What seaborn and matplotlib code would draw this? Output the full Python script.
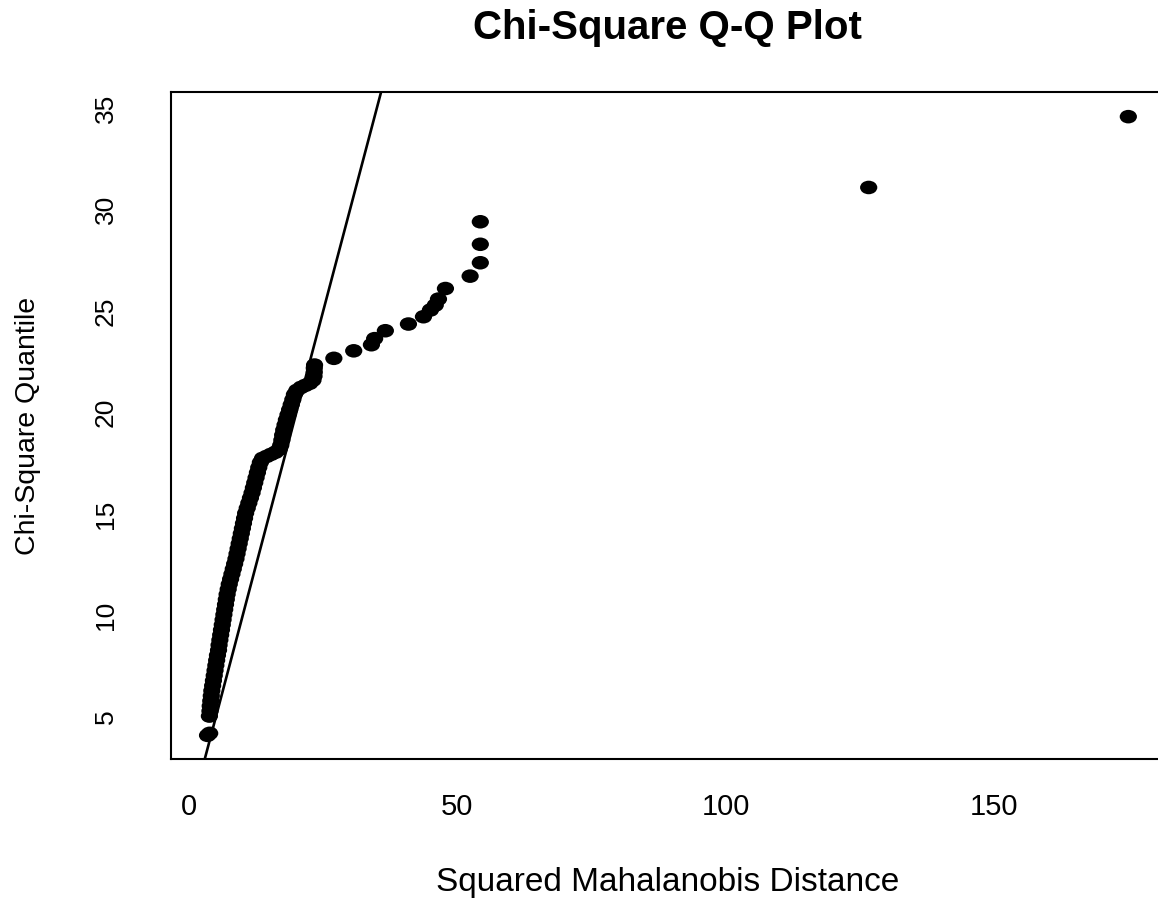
import matplotlib
matplotlib.use("Agg")
import matplotlib.pyplot as plt
import seaborn as sns
import pandas as pd
from matplotlib.path import Path
from matplotlib.markers import MarkerStyle
from matplotlib.transforms import Affine2D

# Squared Mahalanobis distances (x) and chi-square quantiles (y)
mahal_dist = [3.45, 3.85,
              3.80, 3.90, 3.95, 4.05, 4.15, 4.25, 4.40, 4.55, 4.70, 4.85, 5.00, 5.15,
              5.30, 5.50, 5.60, 5.75, 5.90, 6.05, 6.20, 6.35, 6.50, 6.65, 6.80, 6.95,
              7.10, 7.30, 7.50, 7.75, 8.00, 8.25, 8.50, 8.75, 8.95, 9.15, 9.35, 9.55,
              9.75, 9.95, 10.15, 10.35, 10.55, 10.85, 11.15, 11.45, 11.75, 12.00, 12.25,
              12.50, 12.75, 13.00, 13.30, 13.70, 14.50, 15.30, 16.10, 16.80, 17.10,
              17.30, 17.45, 17.65, 17.90, 18.15, 18.45, 18.75, 19.05, 19.35, 19.65,
              20.10, 20.90, 21.70, 22.50, 23.10, 23.30, 23.35, 23.35, 23.40,
              27.0, 30.7, 34.0, 34.6, 36.6, 40.9, 43.7, 45.0, 45.9, 46.5, 47.8,
              52.4, 54.3, 54.3, 54.3, 126.7, 175.1]
chisq_quant = [4.10, 4.20,
               5.05, 5.30, 5.55, 5.80, 6.05, 6.30, 6.55, 6.80, 7.05, 7.30, 7.55, 7.80,
               8.05, 8.30, 8.55, 8.80, 9.05, 9.30, 9.55, 9.80, 10.05, 10.30, 10.55, 10.80,
               11.05, 11.30, 11.55, 11.80, 12.05, 12.30, 12.55, 12.80, 13.05, 13.30, 13.55, 13.80,
               14.05, 14.30, 14.55, 14.80, 15.05, 15.30, 15.55, 15.80, 16.05, 16.30, 16.55,
               16.80, 17.05, 17.30, 17.55, 17.75, 17.85, 17.95, 18.05, 18.20, 18.40,
               18.65, 18.90, 19.15, 19.40, 19.65, 19.90, 20.15, 20.40, 20.65, 20.90,
               21.10, 21.25, 21.35, 21.45, 21.60, 21.80, 22.00, 22.20, 22.35,
               22.68, 23.05, 23.35, 23.65, 24.04, 24.37, 24.73, 25.06, 25.30, 25.60, 26.12,
               26.73, 27.39, 28.30, 29.41, 31.10, 34.59]

ref_intercept = 0.0
ref_slope = 1.0

x_ticks = [0, 50, 100, 150]
y_ticks = [5, 10, 15, 20, 25, 30, 35]

title = "Chi-Square Q-Q Plot"
x_label = "Squared Mahalanobis Distance"
y_label = "Chi-Square Quantile"

df = pd.DataFrame({"dist": mahal_dist, "quant": chisq_quant})

sns.set_style("white")
plt.rcParams["font.family"] = ["Liberation Sans", "DejaVu Sans"]

W, H = 1158, 900
fig = plt.figure(figsize=(W / 100, H / 100), dpi=100)
left, right, top, bottom = 171, 1164.8, 92.3, 759.3
ax = fig.add_axes([left / W, 1 - bottom / H, (right - left) / W, (bottom - top) / H])

ellipse = Path.unit_circle().transformed(Affine2D().scale(1.27, 1.0))
mk = MarkerStyle(ellipse)

sns.scatterplot(data=df, x="dist", y="quant", ax=ax, marker=mk, s=12.4 ** 2,
                color="black", edgecolor="none", linewidth=0, zorder=3)
ax.axline((0, ref_intercept), slope=ref_slope, color="black", lw=1.9, zorder=2)

ax.set_xlim(-3.36, 181.9)
ax.set_ylim(2.92, 35.79)
ax.set_xticks(x_ticks)
ax.set_yticks(y_ticks)
ax.set_xlabel("")
ax.set_ylabel("")

for s in ax.spines.values():
    s.set_visible(True)
    s.set_color("black")
    s.set_linewidth(1.5)

ax.tick_params(axis="both", direction="out", length=14.5, width=1.5, color="black",
               labelcolor="black")
ax.tick_params(axis="x", pad=10, labelsize=21)
ax.tick_params(axis="y", pad=24, labelsize=19, labelrotation=90)
for lbl in ax.get_yticklabels():
    lbl.set_va("center")

cx = (left + right) / 2
fig.text(cx / W, 1 - 28 / H, title, ha="center", va="center", fontsize=29,
         fontweight="bold", color="black")
fig.text(cx / W, 1 - 882 / H, x_label, ha="center", va="center", fontsize=24,
         color="black")
fig.text(28 / W, 1 - ((top + bottom) / 2) / H, y_label, ha="center", va="center",
         rotation=90, fontsize=20.5, color="black")

fig.savefig("out.png", dpi=100)
